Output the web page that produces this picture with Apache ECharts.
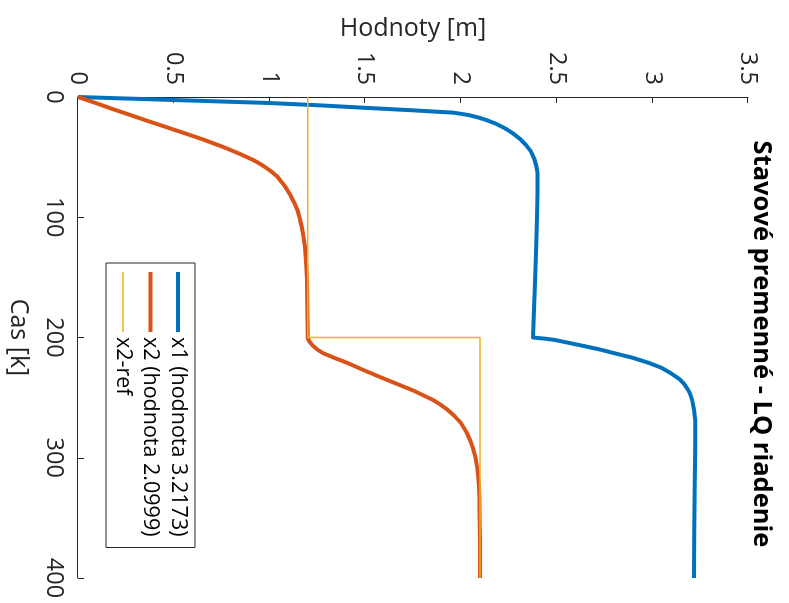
<!DOCTYPE html>
<html>
<head>
<meta charset="utf-8">
<script src="https://cdn.jsdelivr.net/npm/echarts@6/dist/echarts.min.js"></script>
<style>
html,body{margin:0;padding:0;background:#fff;overflow:hidden;width:789px;height:603px;}
#wrap{position:absolute;left:0;top:0;width:603px;height:789px;transform-origin:0 0;transform:translate(789px,0) rotate(90deg);}
#chart{width:603px;height:789px;}
</style>
</head>
<body>
<div id="wrap"><div id="chart"></div></div>
<script>
// Data (time step k and state values)
const titleText = 'Stavové premenné - LQ riadenie';
const xName = 'Cas [k]';
const yName = 'Hodnoty [m]';
const seriesNames = ['x1 (hodnota 3.2173)', 'x2 (hodnota 2.0999)', 'x2-ref'];

const kX1 = [0,1,3,5,7,9,11,13,15,17,19,22,26,30,35,40,45,52,58,63,80,100,130,160,200,
             201,202,204,207,210,213,217,221,225,230,235,239,243,247,252,260,269,290,320,360,400];
const x1  = [0,0.2,0.6,1.0,1.27,1.5,1.74,1.96,2.04,2.09,2.13,2.18,2.23,2.27,2.31,2.34,2.365,2.385,2.395,2.40,2.401,2.398,2.392,2.386,2.377,
             2.44,2.49,2.55,2.64,2.727,2.80,2.90,2.98,3.045,3.10,3.145,3.168,3.185,3.198,3.208,3.218,3.224,3.225,3.222,3.219,3.2173];

const kX2 = [0,3,6,10,14,20,25,30,36,42,48,52,55,58,62,66,70,74,77,81,85,90,95,102,108,115,125,140,152,170,185,200,
             202,204,207,210,213,217,221,227,235,244,252,256,260,265,271,279,286,293,300,308,316,324,335,345,370,400];
const x2  = [0,0.055,0.11,0.18,0.255,0.365,0.46,0.555,0.665,0.765,0.855,0.91,0.945,0.975,1.01,1.04,1.06,1.08,1.092,1.107,1.12,1.136,1.148,1.16,1.169,1.177,1.186,1.192,1.196,1.198,1.199,1.2,
             1.204,1.212,1.228,1.25,1.28,1.34,1.405,1.49,1.61,1.75,1.855,1.895,1.93,1.965,2.0,2.03,2.05,2.065,2.077,2.085,2.091,2.095,2.097,2.098,2.0995,2.0999];

const kRef = [0,200,200,400];
const xRef = [1.2,1.2,2.1,2.1];

const kTicks = [0,100,200,300,400];
const valTicks = [0,0.5,1,1.5,2,2.5,3,3.5];

const colors = ['#0072BD', '#D95319', '#EDB120'];

function pairs(ks, vs){ return ks.map((k,i)=>[k, vs[i]]); }

const axisColor = '#262626';
const font = 'Open Sans';
const thickIcon = 'path://M0 0H60V4H0Z';
const thinIcon = 'path://M0 0H60V1.5H0Z';

const chart = echarts.init(document.getElementById('chart'));
chart.setOption({
  animation: false,
  backgroundColor: '#fff',
  graphic: [{
    type: 'text',
    x: 344, y: 28,
    style: {
      text: titleText,
      font: 'bold 25.5px "Open Sans"',
      fill: '#000',
      align: 'center',
      verticalAlign: 'middle'
    }
  }],
  grid: { left: 97, right: 25, top: 41, bottom: 78, containLabel: false },
  xAxis: {
    type: 'value',
    min: kTicks[0], max: kTicks[kTicks.length-1], interval: kTicks[1]-kTicks[0],
    name: xName, nameLocation: 'middle', nameGap: 47,
    nameTextStyle: { fontFamily: font, fontSize: 25, color: axisColor },
    axisLine: { show: true, onZero: false, lineStyle: { color: axisColor, width: 1 } },
    axisTick: { show: true, inside: true, length: 6, lineStyle: { color: axisColor } },
    axisLabel: { fontFamily: font, fontSize: 23.5, color: axisColor, margin: 12 },
    splitLine: { show: false }
  },
  yAxis: {
    type: 'value',
    min: valTicks[0], max: valTicks[valTicks.length-1], interval: valTicks[1]-valTicks[0],
    name: yName, nameLocation: 'middle', nameGap: 52,
    nameTextStyle: { fontFamily: font, fontSize: 25, color: axisColor },
    axisLine: { show: true, onZero: false, lineStyle: { color: axisColor, width: 1 } },
    axisTick: { show: true, inside: true, length: 6, lineStyle: { color: axisColor } },
    axisLabel: { fontFamily: font, fontSize: 23.5, color: axisColor, margin: 12 },
    splitLine: { show: false }
  },
  legend: {
    orient: 'vertical',
    left: 263, top: 594,
    padding: [6, 11, 6, 9],
    itemWidth: 60, itemHeight: 14, itemGap: 5.5,
    symbolKeepAspect: true,
    backgroundColor: '#fff',
    borderColor: axisColor, borderWidth: 1, borderRadius: 0,
    textStyle: { fontFamily: font, fontSize: 21.5, lineHeight: 22, color: '#000' },
    data: [
      { name: seriesNames[0], icon: thickIcon, itemStyle: { color: colors[0], borderWidth: 0 } },
      { name: seriesNames[1], icon: thickIcon, itemStyle: { color: colors[1], borderWidth: 0 } },
      { name: seriesNames[2], icon: thinIcon, itemStyle: { color: colors[2], borderWidth: 0 } }
    ]
  },
  series: [
    { name: seriesNames[0], type: 'line', data: pairs(kX1, x1), symbol: 'none', showSymbol: false,
      lineStyle: { color: colors[0], width: 4, join: 'round' }, itemStyle: { color: colors[0] } },
    { name: seriesNames[1], type: 'line', data: pairs(kX2, x2), symbol: 'none', showSymbol: false,
      lineStyle: { color: colors[1], width: 4, join: 'round' }, itemStyle: { color: colors[1] } },
    { name: seriesNames[2], type: 'line', data: pairs(kRef, xRef), symbol: 'none', showSymbol: false,
      lineStyle: { color: colors[2], width: 1.5 }, itemStyle: { color: colors[2] } }
  ]
});
</script>
</body>
</html>
